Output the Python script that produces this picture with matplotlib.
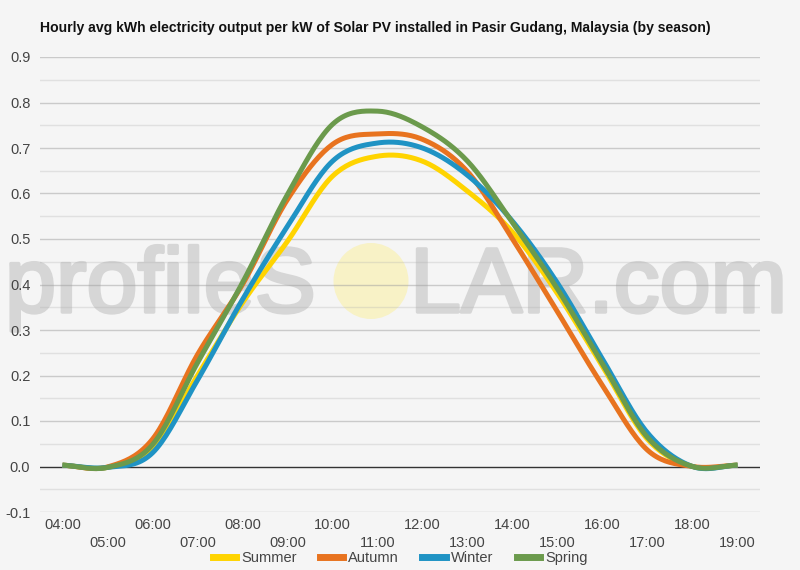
import numpy as np
import matplotlib
matplotlib.use("Agg")
import matplotlib.pyplot as plt
import matplotlib.patheffects as pe
from matplotlib.patches import Ellipse
from matplotlib.lines import Line2D

# ---------------- data ----------------
hours = [4, 5, 6, 7, 8, 9, 10, 11, 12, 13, 14, 15, 16, 17, 18, 19]
hour_labels = ["04:00", "05:00", "06:00", "07:00", "08:00", "09:00", "10:00", "11:00",
               "12:00", "13:00", "14:00", "15:00", "16:00", "17:00", "18:00", "19:00"]
seasons = ["Summer", "Autumn", "Winter", "Spring"]
summer = [0.003, -0.002, 0.040, 0.200, 0.360, 0.495, 0.638, 0.682, 0.671, 0.605, 0.515, 0.380, 0.220, 0.060, 0.000, 0.003]
autumn = [0.003, -0.001, 0.060, 0.246, 0.400, 0.587, 0.708, 0.731, 0.719, 0.648, 0.500, 0.340, 0.178, 0.036, 0.000, 0.003]
winter = [0.003, -0.002, 0.030, 0.190, 0.367, 0.528, 0.671, 0.711, 0.700, 0.640, 0.539, 0.403, 0.236, 0.074, 0.000, 0.003]
spring = [0.003, -0.002, 0.048, 0.228, 0.404, 0.598, 0.752, 0.781, 0.746, 0.671, 0.536, 0.390, 0.226, 0.064, 0.000, 0.003]
series = [summer, autumn, winter, spring]
colors = ["#ffd400", "#e8731f", "#1f93c4", "#6b9a4c"]

title = "Hourly avg kWh electricity output per kW of Solar PV installed in Pasir Gudang, Malaysia (by season)"


def smooth(x, y, n=20):
    """Catmull-Rom style smoothing for drawing the line through the hourly values."""
    x = np.asarray(x, float)
    y = np.asarray(y, float)
    m = np.zeros_like(y)
    m[1:-1] = (y[2:] - y[:-2]) / (x[2:] - x[:-2])
    m[0] = (y[1] - y[0]) / (x[1] - x[0])
    m[-1] = (y[-1] - y[-2]) / (x[-1] - x[-2])
    xs, ys = [], []
    for i in range(len(x) - 1):
        h = x[i + 1] - x[i]
        t = np.linspace(0, 1, n, endpoint=False)
        h00 = 2 * t**3 - 3 * t**2 + 1
        h10 = t**3 - 2 * t**2 + t
        h01 = -2 * t**3 + 3 * t**2
        h11 = t**3 - t**2
        xs.append(x[i] + t * h)
        ys.append(h00 * y[i] + h10 * h * m[i] + h01 * y[i + 1] + h11 * h * m[i + 1])
    xs.append([x[-1]])
    ys.append([y[-1]])
    return np.concatenate(xs), np.concatenate(ys)


plt.rcParams['font.family'] = ['Liberation Sans', 'DejaVu Sans']
bg = "#f5f5f5"
W, H = 800, 570
fig = plt.figure(figsize=(W / 100, H / 100), dpi=100, facecolor=bg)

# background axes holding the watermark
wax = fig.add_axes([0, 0, 1, 1], zorder=0)
wax.set_xlim(0, W)
wax.set_ylim(H, 0)
wax.axis("off")
wm_color = "#d6d6d6"
stroke = [pe.withStroke(linewidth=2.5, foreground=wm_color)]
wax.text(5, 312, "profileS", fontsize=66, color=wm_color, ha="left", va="baseline",
         path_effects=stroke)
wax.text(410, 312, "LAR.com", fontsize=66, color=wm_color, ha="left", va="baseline",
         path_effects=stroke)
wax.add_patch(Ellipse((371, 281), 75, 76, facecolor="#f8f2c6", edgecolor="none"))

# main chart axes on top, transparent
ax = fig.add_axes([40 / W, 1 - 512 / H, 720 / W, 455 / H], zorder=1)
ax.patch.set_alpha(0)
ax.set_xlim(3.5, 19.5)
ax.set_ylim(-0.1, 0.9)

# grid (semi-transparent so it shows faintly over the watermark)
for v in np.arange(-0.05, 0.9, 0.1):
    ax.axhline(v, color="#b0b0b0", alpha=0.3, lw=1.0, zorder=0.6)
for v in np.arange(-0.1, 0.91, 0.1):
    if abs(v) > 1e-9:
        ax.axhline(v, color="#a0a0a0", alpha=0.5, lw=1.0, zorder=0.7)
ax.axhline(0, color="#333333", lw=1.0, zorder=1)

for s in ax.spines.values():
    s.set_visible(False)

yt = np.round(np.arange(-0.1, 0.91, 0.1), 1)
ax.set_yticks(yt)
ax.set_yticklabels([f"{v:.1f}" for v in yt])
ax.tick_params(axis='y', length=0, pad=7, labelsize=10.5, labelcolor="#444444")

ax.set_xticks(hours[0::2])
ax.set_xticklabels(hour_labels[0::2])
ax.set_xticks(hours[1::2], minor=True)
ax.set_xticklabels(hour_labels[1::2], minor=True)
ax.tick_params(axis='x', which='major', length=0, pad=4, labelsize=10.5, labelcolor="#444444")
ax.tick_params(axis='x', which='minor', length=0, pad=17, labelsize=10.5, labelcolor="#444444")

# lines
handles = []
for name, vals, c in zip(seasons, series, colors):
    xs, ys = smooth(hours, vals)
    ax.plot(xs, ys, color=c, lw=3.6, solid_capstyle="butt", zorder=5)
    handles.append(Line2D([], [], color=c, lw=5))

fig.text(40 / W, 1 - 28 / H, title, fontsize=10.1, fontweight="bold", color="#111111",
         ha="left", va="center")

fig.legend(handles, seasons, loc="center", bbox_to_anchor=(0.5, 1 - 558 / H), ncol=4,
           frameon=False, fontsize=10.5, labelcolor="#444444", handlelength=1.6,
           handletextpad=0.35, columnspacing=1.6, borderaxespad=0)

fig.savefig("out.png", dpi=100, facecolor=bg)
